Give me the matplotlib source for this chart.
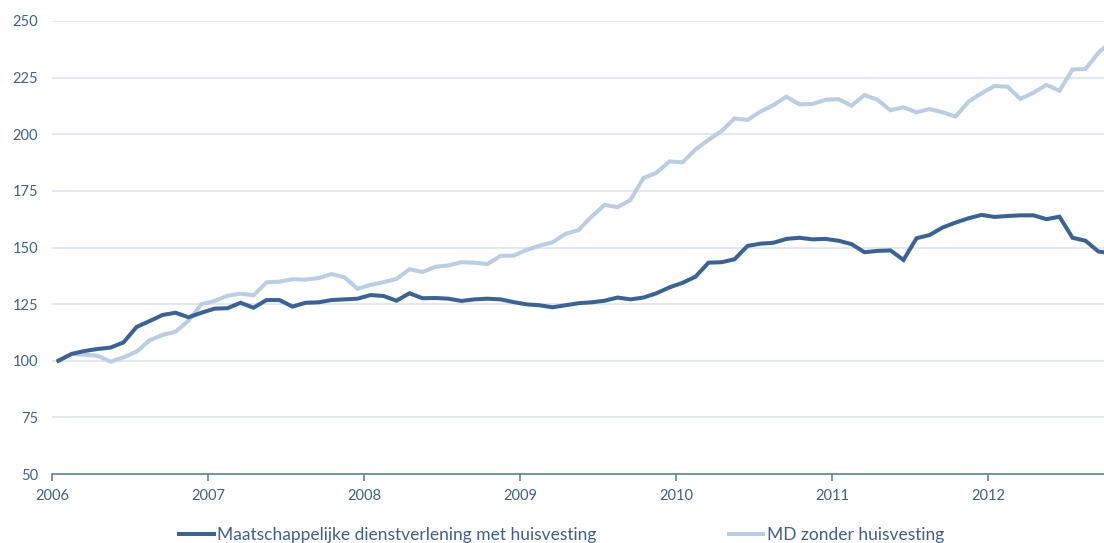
import numpy as np
import matplotlib.pyplot as plt

# monthly index values, Jan 2006 onwards
met_huisvesting = [100, 103, 104.3, 105.2, 105.8, 108.1, 114.9, 117.5, 120.2, 121.2, 119.2, 121.2,
                   123, 123.2, 125.6, 123.4, 126.8, 126.8, 123.9, 125.6, 125.8, 126.8, 127.1, 127.4,
                   129, 128.6, 126.5, 129.8, 127.6, 127.7, 127.4, 126.4, 127.1, 127.4, 127.1, 125.9,
                   124.9, 124.5, 123.6, 124.5, 125.4, 125.8, 126.5, 127.9, 127.1, 127.9, 129.8, 132.4,
                   134.4, 137.1, 143.3, 143.5, 144.8, 150.7, 151.7, 152.1, 153.8, 154.3, 153.6, 153.8,
                   153, 151.5, 147.9, 148.5, 148.7, 144.5, 154.1, 155.5, 158.8, 161, 162.9, 164.4,
                   163.5, 163.9, 164.2, 164.2, 162.5, 163.6, 154.3, 153, 148.2, 147.5]
zonder_huisvesting = [100, 103, 102.7, 102.2, 99.6, 101.5, 104, 109, 111.4, 112.8, 117.7, 125,
                      126.4, 128.7, 129.6, 128.9, 134.6, 134.9, 136, 135.8, 136.5, 138.3, 136.8, 131.8,
                      133.5, 134.7, 136.1, 140.4, 139.2, 141.5, 142.1, 143.5, 143.3, 142.7, 146.3, 146.4,
                      148.9, 150.8, 152.3, 156, 157.7, 163.6, 168.8, 167.8, 171, 180.7, 183, 188,
                      187.6, 193.3, 197.5, 201.4, 207, 206.3, 210, 212.9, 216.6, 213.2, 213.4, 215.2,
                      215.5, 212.6, 217.3, 215.2, 210.6, 211.9, 209.7, 211.1, 209.7, 207.8, 214.4, 218.1,
                      221.3, 221, 215.6, 218.4, 221.8, 219.2, 228.6, 228.8, 236, 241]
jaren = ['2006', '2007', '2008', '2009', '2010', '2011', '2012']
labels = ['Maatschappelijke dienstverlening met huisvesting', 'MD zonder huisvesting']

donker = '#3A6393'
licht = '#B9CDE5'
tekst = '#3F5F8C'

plt.rcParams['font.family'] = ['Lato', 'DejaVu Sans']

fig = plt.figure(figsize=(11.04, 5.43), dpi=100)
ax = fig.add_axes([52 / 1104, 1 - 474 / 543, 1052 / 1104, 453 / 543])

x = np.arange(len(met_huisvesting)) + 0.5
ax.plot(x, zonder_huisvesting, color=licht, lw=2.9, solid_joinstyle='miter', label=labels[1], zorder=3)
ax.plot(x, met_huisvesting, color=donker, lw=2.9, solid_joinstyle='miter', label=labels[0], zorder=4)

ax.set_xlim(0, 1052 / 13)
ax.set_ylim(50, 250)
ax.set_yticks(range(50, 251, 25))
ax.set_xticks(np.arange(len(jaren)) * 12)
ax.set_xticklabels(jaren)
ax.grid(axis='y', color='#D9E2F1', lw=1.1)
ax.set_axisbelow(True)

for s in ['left', 'right', 'top']:
    ax.spines[s].set_visible(False)
ax.spines['bottom'].set_color('#5F7FA6')
ax.spines['bottom'].set_linewidth(1.2)
ax.tick_params(axis='y', length=0, pad=10, labelsize=10.5, labelcolor=tekst)
ax.tick_params(axis='x', length=5, width=1.2, color='#5F7FA6', pad=6, labelsize=10.5, labelcolor=tekst)

h, l = ax.get_legend_handles_labels()
leg = fig.legend(h[::-1], l[::-1], loc='center', bbox_to_anchor=(0.5086, 0.015), ncol=2,
                 frameon=False, fontsize=12.5, handlelength=2.0, handletextpad=0.2,
                 columnspacing=7.6, borderpad=0)
for t in leg.get_texts():
    t.set_color(tekst)

fig.savefig('out.png', dpi=100)
